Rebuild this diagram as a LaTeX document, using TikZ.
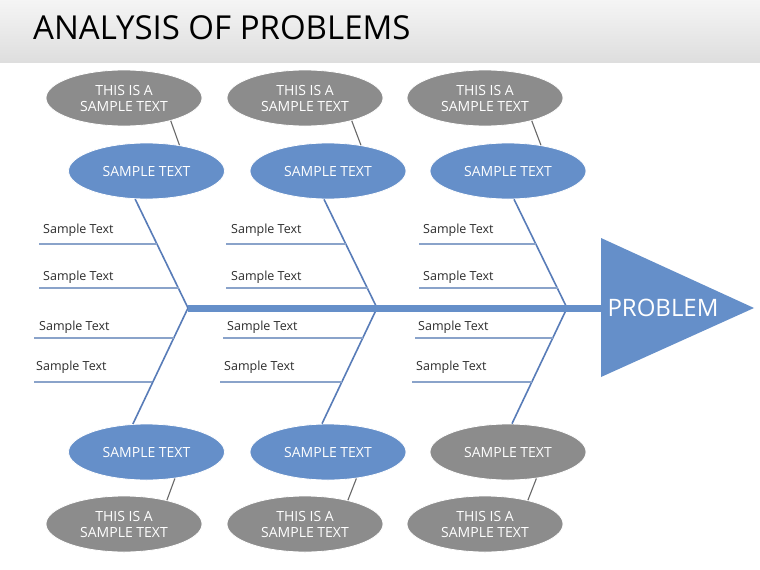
\documentclass[tikz,border=0pt]{standalone}
\usepackage{fontspec}
\setmainfont{Open Sans}
\usetikzlibrary{shapes.geometric}
\definecolor{fbblue}{RGB}{101,143,201}
\definecolor{ribblue}{RGB}{88,124,184}
\definecolor{linblue}{RGB}{138,163,202}
\definecolor{fbgray}{RGB}{140,140,140}
\definecolor{congray}{RGB}{105,105,105}
\definecolor{txtgray}{RGB}{45,45,45}
\tikzset{
  bell/.style={ellipse, fill=fbblue, draw=white, line width=0.8pt, minimum width=156pt, minimum height=56pt, inner sep=0pt, text=white, align=center, font=\fontsize{14}{16}\selectfont},
  gell/.style={bell, fill=fbgray},
  stxt/.style={anchor=west, inner sep=0pt, text=txtgray, font=\fontsize{12.5}{15}\selectfont},
  hline/.style={draw=linblue, line width=1.3pt},
  rib/.style={draw=ribblue, line width=1.6pt},
  conn/.style={draw=congray, line width=1.1pt},
}
\begin{document}
\begin{tikzpicture}[x=1pt,y=-1pt]
\useasboundingbox (0,0) rectangle (760,570);
\fill[white] (0,0) rectangle (760,570);
% header
\shade[top color=white!96!black, bottom color=white!87!black] (0,0) rectangle (760,62);
\node[anchor=west, inner sep=0pt, font=\fontsize{33}{38}\selectfont, text=black] (title) at (33,28) {ANALYSIS OF PROBLEMS};

% junctions
\coordinate (j1) at (188,308);
\coordinate (j2) at (377,308);
\coordinate (j3) at (567,308);
\coordinate (tl) at (601,238);
\coordinate (tb) at (601,377);
\coordinate (tt) at (754,308);
\coordinate (sp) at (601,308);

% ellipses
\node[gell] (g1t) at (124,98) {THIS IS A\\SAMPLE TEXT};
\node[gell] (g2t) at (305,98) {THIS IS A\\SAMPLE TEXT};
\node[gell] (g3t) at (485,98) {THIS IS A\\SAMPLE TEXT};
\node[bell] (b1t) at (146.5,171) {SAMPLE TEXT};
\node[bell] (b2t) at (328,171) {SAMPLE TEXT};
\node[bell] (b3t) at (508,171) {SAMPLE TEXT};
\node[bell] (b1b) at (146.5,452) {SAMPLE TEXT};
\node[bell] (b2b) at (328,452) {SAMPLE TEXT};
\node[gell] (g3b) at (508,452) {SAMPLE TEXT};
\node[gell] (g1b) at (124,524) {THIS IS A\\SAMPLE TEXT};
\node[gell] (g2b) at (305,524) {THIS IS A\\SAMPLE TEXT};
\node[gell] (g3bb) at (485,524) {THIS IS A\\SAMPLE TEXT};

% gray connectors
\draw[conn] (g1t.-26) -- (b1t.38);
\draw[conn] (g2t.-26) -- (b2t.38);
\draw[conn] (g3t.-26) -- (b3t.38);
\draw[conn] (b1b.-43) -- (g1b.29);
\draw[conn] (b2b.-43) -- (g2b.29);
\draw[conn] (g3b.-43) -- (g3bb.29);

% ribs
\draw[rib] (b1t.-112) -- (j1) -- (b1b.116);
\draw[rib] (b2t.-98) -- (j2) -- (b2b.102);
\draw[rib] (b3t.-78) -- (j3) -- (g3b.82);

% spine and head
\draw[draw=fbblue, line width=7pt] (j1) -- (sp);
\fill[fbblue] (tl) -- (tt) -- (tb) -- cycle;
\node[text=white, inner sep=0pt, font=\fontsize{24}{28}\selectfont] (prob) at (663,308) {PROBLEM};

% group 1
\coordinate (a1l) at (39,244);  \coordinate (a1r) at (157,244);
\coordinate (a2l) at (39,288);  \coordinate (a2r) at (179,288);
\coordinate (a3l) at (34,338);  \coordinate (a3r) at (174,338);
\coordinate (a4l) at (34,382);  \coordinate (a4r) at (152,382);
\draw[hline] (a1l) -- (a1r);
\draw[hline] (a2l) -- (a2r);
\draw[hline] (a3l) -- (a3r);
\draw[hline] (a4l) -- (a4r);
\node[stxt] (s11) at (43,230) {Sample Text};
\node[stxt] (s12) at (43,277) {Sample Text};
\node[stxt] (s13) at (39,327) {Sample Text};
\node[stxt] (s14) at (36,367) {Sample Text};

% group 2
\coordinate (m1l) at (226,244);  \coordinate (m1r) at (346,244);
\coordinate (m2l) at (226,288);  \coordinate (m2r) at (368,288);
\coordinate (m3l) at (223,338);  \coordinate (m3r) at (363,338);
\coordinate (m4l) at (220,382);  \coordinate (m4r) at (342,382);
\draw[hline] (m1l) -- (m1r);
\draw[hline] (m2l) -- (m2r);
\draw[hline] (m3l) -- (m3r);
\draw[hline] (m4l) -- (m4r);
\node[stxt] (s21) at (231,230) {Sample Text};
\node[stxt] (s22) at (231,277) {Sample Text};
\node[stxt] (s23) at (227,327) {Sample Text};
\node[stxt] (s24) at (224,367) {Sample Text};

% group 3
\coordinate (c1l) at (419,244);  \coordinate (c1r) at (536,244);
\coordinate (c2l) at (419,288);  \coordinate (c2r) at (558,288);
\coordinate (c3l) at (415,338);  \coordinate (c3r) at (553,338);
\coordinate (c4l) at (412,382);  \coordinate (c4r) at (532,382);
\draw[hline] (c1l) -- (c1r);
\draw[hline] (c2l) -- (c2r);
\draw[hline] (c3l) -- (c3r);
\draw[hline] (c4l) -- (c4r);
\node[stxt] (s31) at (423,230) {Sample Text};
\node[stxt] (s32) at (423,277) {Sample Text};
\node[stxt] (s33) at (418,327) {Sample Text};
\node[stxt] (s34) at (416,367) {Sample Text};
\end{tikzpicture}
\end{document}
